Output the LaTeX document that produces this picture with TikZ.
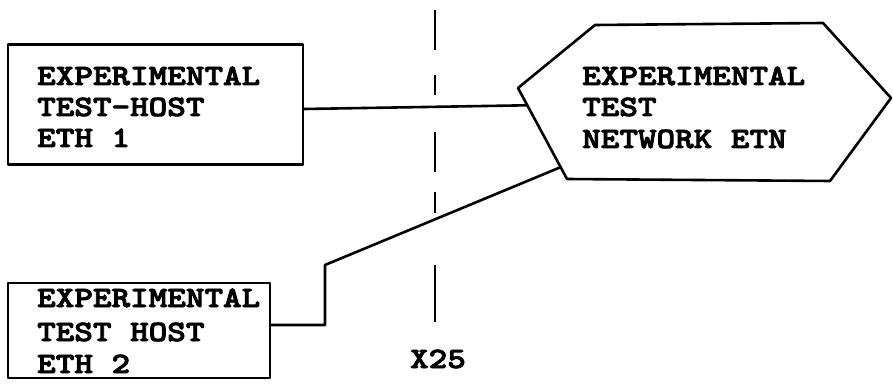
\documentclass[tikz,border=0pt]{standalone}
\usepackage{fontspec}
\newfontfamily\typer[FakeStretch=1.2,FakeBold=3]{lmmonolt10-bold.otf}
\usetikzlibrary{calc}
\begin{document}
\begin{tikzpicture}[x=1pt,y=-1pt,
  ln/.style={line width=2.6pt, line join=round, line cap=round},
  txt/.style={font=\typer\fontsize{29.5}{29.5}\selectfont, anchor=base west, inner sep=0pt},
  hostbox/.style={draw, ln, rectangle, inner sep=0pt}]
\useasboundingbox (0,0) rectangle (893,387);
% host boxes
\node[hostbox, minimum width=295pt, minimum height=120pt] (h1) at (155.5,104.5) {};
\node[hostbox, minimum width=262pt, minimum height=95pt] (h2) at (139,330.5) {};
\node[txt] (h1a) at (37,85) {EXPERIMENTAL};
\node[txt] (h1b) at (37,116) {TEST-HOST};
\node[txt] (h1c) at (37,147) {ETH 1};
\node[txt] (h2a) at (37,307) {EXPERIMENTAL};
\node[txt] (h2b) at (37,341) {TEST HOST};
\node[txt] (h2c) at (37,373) {ETH 2};
% network hexagon
\coordinate (nL) at (518,88);
\coordinate (nTL) at (595,25);
\coordinate (nTR) at (823,23);
\coordinate (nR) at (891,98);
\coordinate (nBR) at (830,181);
\coordinate (nBL) at (567,179);
\draw[ln] (nL) -- (nTL) -- (nTR) -- (nR) -- (nBR) -- (nBL) -- cycle;
\node[txt] (na) at (582,85) {EXPERIMENTAL};
\node[txt] (nb) at (582,116) {TEST};
\node[txt] (nc) at (582,148) {NETWORK ETN};
% connectors
\coordinate (e1) at ($(nL)!0.19!(nBL)$);
\coordinate (e2) at ($(nL)!0.87!(nBL)$);
\draw[ln] (h1.east |- 0,109) -- (e1);
\coordinate (k1) at (325,325);
\coordinate (k2) at (325,265);
\draw[ln] (h2.east |- k1) -- (k1) -- (k2) -- (e2);
% X25 interface line
\coordinate (xt) at (435,10);
\coordinate (xb) at (435,322);
\draw[line width=2.6pt, dash pattern=on 40pt off 25pt on 20pt off 37pt on 40pt off 20pt on 21pt off 52pt on 57pt] (xt) -- (xb);
\node[txt, anchor=base] (x25) at (438,368) {X25};
\end{tikzpicture}
\end{document}
